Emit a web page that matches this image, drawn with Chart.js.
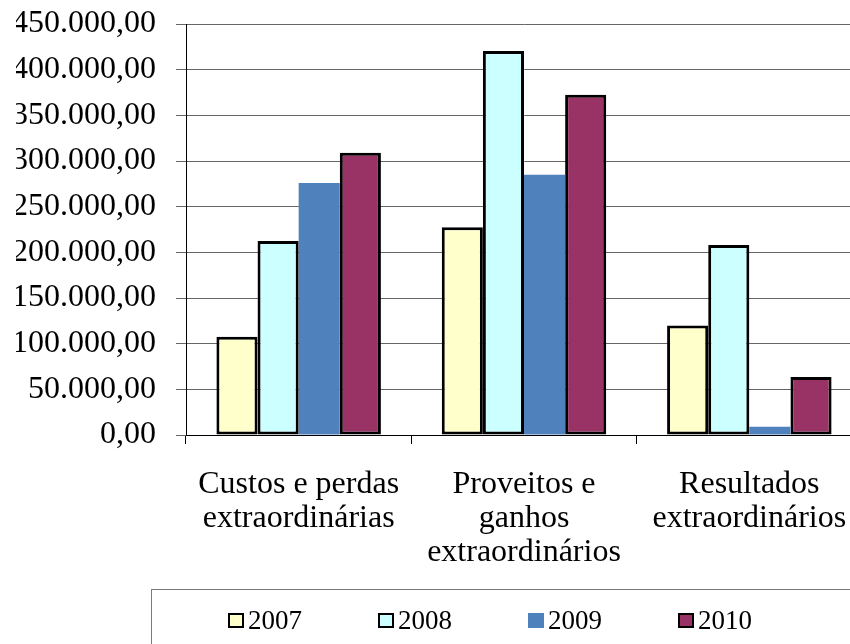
<!DOCTYPE html>
<html>
<head>
<meta charset="utf-8">
<script src="https://cdn.jsdelivr.net/npm/chart.js@4.4.1/dist/chart.umd.min.js"></script>
<style>
  html, body { margin: 0; padding: 0; background: #fff; overflow: hidden; width: 850px; height: 644px; }
  #wrap { position: relative; width: 862px; height: 644px; }
  #legend { position: absolute; left: 151px; top: 589px; width: 720px; height: 80px; border: 1px solid #7a7a7a; box-sizing: border-box; }
  .item { position: absolute; top: 15px; display: flex; align-items: center; font-family: 'Liberation Serif', 'Times New Roman', serif; font-size: 27px; color: #000; line-height: 30px; }
  .sw { width: 16px; height: 15px; box-sizing: border-box; margin-right: 4px; }
</style>
</head>
<body>
<div id="wrap">
  <canvas id="c" width="862" height="644"></canvas>
  <div id="legend"></div>
</div>
<script>
const categories = [
  ['Custos e perdas', 'extraordinárias'],
  ['Proveitos e', 'ganhos', 'extraordinários'],
  ['Resultados', 'extraordinários']
];
const seriesNames = ['2007', '2008', '2009', '2010'];
const values2007 = [107500, 227500, 120000];
const values2008 = [212500, 420500, 208000];
const values2009 = [276000, 285000, 9000];
const values2010 = [309000, 372500, 63500];
const yMin = 0, yMax = 450000, yStep = 50000;

const fills = ['#FFFFCC', '#CCFFFF', '#4F81BD', '#993366'];
const borders = [3, 3, 0, 3];
const seriesValues = [values2007, values2008, values2009, values2010];

function fmt(v) {
  const s = Math.round(v).toString();
  const withDots = s.replace(/\B(?=(\d{3})+(?!\d))/g, '.');
  return withDots + ',00';
}

const font = { family: "'Liberation Serif', 'Times New Roman', serif" };

const chart = new Chart(document.getElementById('c'), {
  type: 'bar',
  data: {
    labels: categories,
    datasets: seriesNames.map((n, i) => ({
      label: n,
      data: seriesValues[i],
      backgroundColor: fills[i],
      borderColor: '#000',
      borderWidth: borders[i],
      borderSkipped: false,
      categoryPercentage: 0.73,
      barPercentage: 1.0
    }))
  },
  options: {
    responsive: false,
    animation: false,
    events: [],
    layout: { padding: { left: 16, top: 24, right: 0, bottom: 74 } },
    plugins: { legend: { display: false }, tooltip: { enabled: false } },
    scales: {
      x: {
        offset: true,
        afterFit: s => { s.height = 135; s.paddingLeft = 0; s.paddingRight = 0; },
        grid: { display: true, drawOnChartArea: false, drawTicks: true, tickLength: 9, color: '#000', offset: true },
        border: { display: true, color: '#000', width: 1 },
        ticks: { color: '#000', padding: 24, maxRotation: 0, autoSkip: false, font: { ...font, size: 32, lineHeight: '34px' } }
      },
      y: {
        min: yMin, max: yMax,
        afterFit: s => { s.width = 170; s.paddingTop = 0; s.paddingBottom = 0; },
        grid: { color: '#666', lineWidth: 1, tickLength: 10, tickColor: '#666' },
        border: { display: true, color: '#000', width: 1 },
        ticks: { stepSize: yStep, color: '#000', padding: 20, font: { ...font, size: 32 }, callback: v => fmt(v) }
      }
    }
  }
});

const legend = document.getElementById('legend');
const offsets = [76, 226, 376, 526];
seriesNames.forEach((n, i) => {
  const it = document.createElement('div');
  it.className = 'item';
  it.style.left = offsets[i] + 'px';
  const sw = document.createElement('span');
  sw.className = 'sw';
  sw.style.background = fills[i];
  if (borders[i]) sw.style.border = '2.5px solid #000';
  const t = document.createElement('span');
  t.textContent = n;
  it.appendChild(sw);
  it.appendChild(t);
  legend.appendChild(it);
});
</script>
</body>
</html>
